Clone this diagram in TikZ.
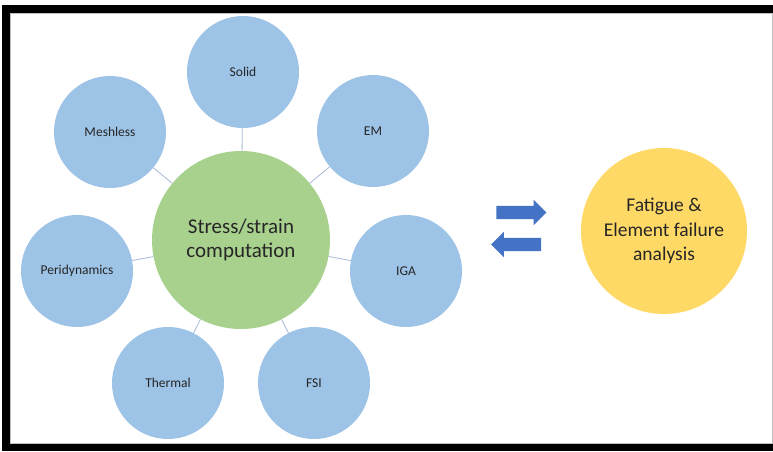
\documentclass[tikz,border=0pt]{standalone}
\usepackage{fontspec}
\setmainfont{Carlito}
\usepackage{tikz}
\usetikzlibrary{shapes.arrows}
\definecolor{topicblue}{HTML}{9DC3E6}
\definecolor{coregreen}{HTML}{A9D18E}
\definecolor{resultyellow}{HTML}{FFD966}
\definecolor{arrowblue}{HTML}{4472C4}
\definecolor{linkgrey}{HTML}{A8B8D8}
\definecolor{textdark}{HTML}{262626}
\tikzset{
  topic/.style={circle,fill=topicblue,minimum size=112pt,inner sep=0pt,text=textdark,font=\fontsize{13.5}{16}\selectfont},
  core/.style={circle,fill=coregreen,minimum size=178pt,inner sep=0pt,align=center,text=textdark,font=\fontsize{21}{24}\selectfont},
  result/.style={circle,fill=resultyellow,minimum size=166pt,inner sep=0pt,align=center,text=textdark,font=\fontsize{19.5}{24.5}\selectfont},
  swap/.style={single arrow,fill=arrowblue,minimum height=50pt,minimum width=25pt,single arrow head extend=6pt,inner xsep=0pt,inner ysep=6.5pt},
  link/.style={draw=linkgrey,line width=0.8pt}
}
\begin{document}
\begin{tikzpicture}[x=1pt,y=-1pt]
  \useasboundingbox (0,0) rectangle (773,451);
  \fill[black] (2,5) rectangle (773,451);
  \fill[white,draw=gray!50,line width=0.8pt] (10,13) rectangle (772,443);

  \node[core] (stress) at (241,240) {Stress/strain\\computation};

  \node[topic] (solid) at (243,72) {Solid};
  \node[topic] (em) at (373,131) {EM};
  \node[topic] (iga) at (406,271) {IGA};
  \node[topic] (fsi) at (314,383) {FSI};
  \node[topic] (thermal) at (168,383) {Thermal};
  \node[topic] (peri) at (77,271) {Peridynamics};
  \node[topic] (meshless) at (110,132) {Meshless};

  \path [link] (stress) edge (solid);
  \path [link] (stress) edge (em);
  \path [link] (stress) edge (iga);
  \path [link] (stress) edge (fsi);
  \path [link] (stress) edge (thermal);
  \path [link] (stress) edge (peri);
  \path [link] (stress) edge (meshless);

  \node[swap] (arrowright) at (518,212.5) {};
  \node[swap,shape border rotate=180] (arrowleft) at (519.5,244.5) {};

  \node[result] (fatigue) at (664,231) {Fatigue \&\\Element failure\\analysis};
\end{tikzpicture}
\end{document}
